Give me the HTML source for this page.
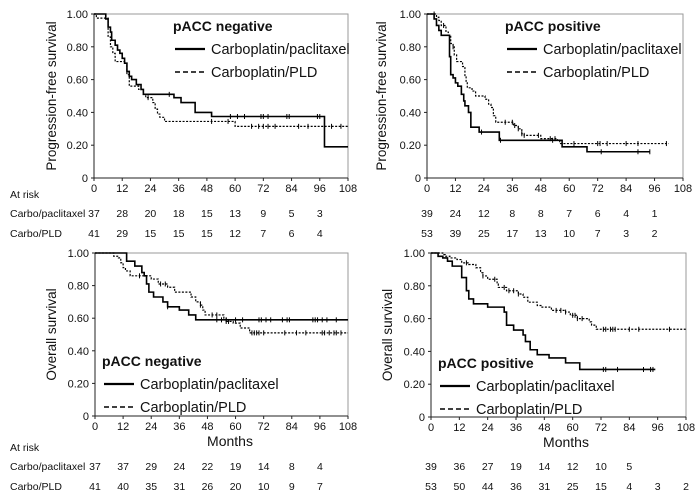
<!DOCTYPE html>
<html><head><meta charset="utf-8"><style>
html,body{margin:0;padding:0;background:#fff;}
svg{display:block;font-family:"Liberation Sans",Arial,sans-serif;}
</style></head><body>
<svg id="fig" width="700" height="500" viewBox="0 0 700 500"></svg>
<script>
const xTicks=[0,12,24,36,48,60,72,84,96,108];
const yTicks=[0,0.2,0.4,0.6,0.8,1.0];
const yTickLabels=["0","0.20","0.40","0.60","0.80","1.00"];

// Panel 1: PFS pACC negative
const p1aT=[5,6,7,7.5,9,10,11,12,13,14,15,16,18,20,21,34,37,43,50,98];
const p1aS=[0.97,0.92,0.89,0.84,0.81,0.78,0.76,0.73,0.70,0.65,0.62,0.60,0.57,0.54,0.51,0.49,0.46,0.40,0.375,0.19];
const p1aEnd=[108];
const p1aCens=[32,58,61,64,71,72,74,82,83,95,96];
const p1bT=[1,6,7,8,9,13,14,15,19,21,22,25,26,27,28,30,60];
const p1bS=[0.975,0.86,0.80,0.76,0.71,0.70,0.63,0.56,0.54,0.51,0.49,0.46,0.42,0.39,0.37,0.345,0.315];
const p1bEnd=[108];
const p1bCens=[23,50,57,67,70,72,74,77,87,91,101,105];
const p1RiskA=[37,28,20,18,15,13,9,5,3];
const p1RiskB=[41,29,15,15,15,12,7,6,4];

// Panel 2: PFS pACC positive
const p2aT=[3,4,5,6,9.5,10,11,12,13,14.5,15.5,16,17.5,18.5,22,30.5,57,67.5];
const p2aS=[0.97,0.93,0.90,0.87,0.74,0.63,0.61,0.58,0.56,0.51,0.47,0.44,0.40,0.31,0.28,0.23,0.19,0.16];
const p2aEnd=[94];
const p2aCens=[23,31,53,73.5,89,94];
const p2bT=[4,5,6,8,9,10,11,11.5,12.5,15,16,16.5,17,19,20.5,24.5,26,27,28,29,36.5,38.5,40,41,48,55,56];
const p2bS=[0.98,0.96,0.93,0.89,0.87,0.82,0.80,0.75,0.71,0.68,0.62,0.58,0.55,0.53,0.50,0.48,0.45,0.43,0.38,0.34,0.32,0.30,0.27,0.26,0.24,0.23,0.21];
const p2bEnd=[102];
const p2bCens=[3,7,11,33,36,37,38.5,40,41,47,52,54,62,72,73,76,84,89,101];
const p2RiskA=[39,24,12,8,8,7,6,4,1];
const p2RiskB=[53,39,25,17,13,10,7,3,2];

// Panel 3: OS pACC negative
const p3aT=[13.5,17,20,21,22,23,25,29,31,36,40,43];
const p3aS=[0.95,0.92,0.88,0.86,0.81,0.76,0.73,0.70,0.67,0.65,0.62,0.59];
const p3aEnd=[108];
const p3aCens=[31,52,54,56,60,63,70,71,73,75,80,82,83,93,94,95,97,99,103];
const p3bT=[8,10,11,12,13,15,24,27,31,34,41,43,45,46,47,55,56,59,62,66];
const p3bS=[0.98,0.97,0.94,0.91,0.89,0.86,0.84,0.81,0.79,0.76,0.73,0.70,0.68,0.65,0.62,0.60,0.58,0.57,0.54,0.51];
const p3bEnd=[108];
const p3bCens=[19,28,30,45,50,52,56,57,67,68,69,70,72,81,86,90,97,98,100,102,103,105];
const p3RiskA=[37,37,29,24,22,19,14,8,4];
const p3RiskB=[41,40,35,31,26,20,10,9,7];

// Panel 4: OS pACC positive
const p4aT=[3,5,7,9,13,15,16,18,24,31,32,35,39,40,42,45,50,57,63];
const p4aS=[0.98,0.97,0.95,0.92,0.85,0.77,0.72,0.69,0.67,0.64,0.56,0.53,0.50,0.46,0.41,0.38,0.36,0.33,0.29];
const p4aEnd=[95];
const p4aCens=[73,74,79,90,93,94];
const p4bT=[5,6,8,11,13,16,19,21,22,24,28,28.5,32,37,39,41,45,47,51,57,59,62,67,68,70];
const p4bS=[0.99,0.98,0.97,0.96,0.94,0.93,0.91,0.88,0.86,0.84,0.81,0.79,0.77,0.75,0.73,0.70,0.68,0.67,0.65,0.64,0.62,0.60,0.58,0.56,0.535];
const p4bEnd=[108];
const p4bCens=[15,22,27,31,33,35,37,53,55,57,60,61,62,64,73,74,76,77,78,84,88,101];
const p4RiskA=[39,36,27,19,14,12,10,5];
const p4RiskB=[53,50,44,36,31,25,15,4,3,2];

const NS="http://www.w3.org/2000/svg";
const svg=document.getElementById('fig');
function mk(tag,attrs,parent,text){const e=document.createElementNS(NS,tag);for(const k in attrs)e.setAttribute(k,attrs[k]);if(text!==undefined)e.textContent=text;(parent||svg).appendChild(e);return e;}
function stepVal(T,S,t){let v=1;for(let i=0;i<T.length;i++){if(T[i]<=t)v=S[i];}return v;}

function panel(g,id,ytitle,title,legendPos,solid,dashed,riskA,riskB,showLabels,showMonths){
  const X=t=>g.x0+(g.x1-g.x0)*t/108;
  const Y=s=>g.y0+(g.y1-g.y0)*(1-s);
  const grp=mk('g',{});
  
  
  const fr=mk('path',{d:`M${g.x0},${g.y0}H${g.x1}V${g.y1}`,fill:'none',stroke:'#999','stroke-width':1},grp);
  
  const ax=mk('path',{d:`M${g.x0},${g.y0}V${g.y1}H${g.x1}`,fill:'none',stroke:'#222','stroke-width':1},grp);
  
  xTicks.forEach(t=>{
    mk('line',{x1:X(t),x2:X(t),y1:g.y1,y2:g.y1+3,stroke:'#222'},grp);
    const tl=mk('text',{x:X(t),y:g.y1+14,'font-size':11,'text-anchor':'middle',fill:'#111'},grp,String(t));
    
  });
  yTicks.forEach((v,i)=>{
    mk('line',{x1:g.x0-3,x2:g.x0,y1:Y(v),y2:Y(v),stroke:'#222'},grp);
    const tl=mk('text',{x:g.x0-6,y:Y(v)+4,'font-size':11,'text-anchor':'end',fill:'#111'},grp,yTickLabels[i]);
    
  });
  const yt=mk('text',{transform:`translate(${g.ytx},${(g.y0+g.y1)/2}) rotate(-90)`,'font-size':13.5,'text-anchor':'middle',fill:'#111'},grp,ytitle);
  
  if(showMonths){
    const mt=mk('text',{x:g.monthsX,y:g.y1+30,'font-size':14,'text-anchor':'middle',fill:'#111'},grp,'Months');
    
  }
  function curve(T,S,end,cens,dash,name){
    let d=`M${X(0)},${Y(1)}`;
    for(let i=0;i<T.length;i++){d+=`H${X(T[i])}V${Y(S[i])}`;}
    d+=`H${X(end[0])}`;
    const p=mk('path',{d:d,fill:'none',stroke:'#000','stroke-width':dash?1.2:1.6,'stroke-dasharray':dash?'2,1.5':'none'},grp);
    
    cens.forEach(t=>{const v=stepVal(T,S,t);
      const c=mk('line',{x1:X(t),x2:X(t),y1:Y(v)-2.5,y2:Y(v)+2.5,stroke:'#000','stroke-width':1},grp);
      });
  }
  curve(solid[0],solid[1],solid[2],solid[3],false,'carboplatin-paclitaxel-curve');
  curve(dashed[0],dashed[1],dashed[2],dashed[3],true,'carboplatin-pld-curve');
  const L=legendPos;
  const lt=mk('text',{x:L.x,y:L.y,'font-size':14,'font-weight':'bold',fill:'#111'},grp,title);
  
  const l1=mk('line',{x1:L.lx,x2:L.lx+30,y1:L.y+18,y2:L.y+18,stroke:'#000','stroke-width':2.2},grp);
  
  const t1=mk('text',{x:L.lx+36,y:L.y+23,'font-size':14.5,fill:'#111'},grp,'Carboplatin/paclitaxel');
  
  const l2=mk('line',{x1:L.lx,x2:L.lx+30,y1:L.y+41,y2:L.y+41,stroke:'#000','stroke-width':1.6,'stroke-dasharray':'5,3'},grp);
  
  const t2=mk('text',{x:L.lx+36,y:L.y+46,'font-size':14.5,fill:'#111'},grp,'Carboplatin/PLD');
  
  if(showLabels){
    const a=mk('text',{x:10,y:g.riskY-14,'font-size':10.5,fill:'#111'},grp,'At risk');
    
    const r1=mk('text',{x:10,y:g.riskY+5,'font-size':10.5,fill:'#111'},grp,'Carbo/paclitaxel');
    
    const r2=mk('text',{x:10,y:g.riskY+25,'font-size':10.5,fill:'#111'},grp,'Carbo/PLD');
    
  }
  riskA.forEach((n,i)=>{const t=mk('text',{x:X(xTicks[i]),y:g.riskY+5,'font-size':10.5,'text-anchor':'middle',fill:'#111'},grp,String(n));
    });
  riskB.forEach((n,i)=>{const t=mk('text',{x:X(xTicks[i]),y:g.riskY+25,'font-size':10.5,'text-anchor':'middle',fill:'#111'},grp,String(n));
    });
}

panel({x0:94,x1:348,y0:14,y1:178,ytx:56,riskY:212},'pfs-pacc-negative-panel','Progression-free survival','pACC negative',{x:173,y:31,lx:175},
  [p1aT,p1aS,p1aEnd,p1aCens],[p1bT,p1bS,p1bEnd,p1bCens],p1RiskA,p1RiskB,true,false);
panel({x0:427,x1:683,y0:14,y1:178,ytx:386,riskY:212},'pfs-pacc-positive-panel','Progression-free survival','pACC positive',{x:505,y:31,lx:507},
  [p2aT,p2aS,p2aEnd,p2aCens],[p2bT,p2bS,p2bEnd,p2bCens],p2RiskA,p2RiskB,false,false);
panel({x0:95,x1:348,y0:253,y1:416,ytx:56,riskY:465,monthsX:230},'os-pacc-negative-panel','Overall survival','pACC negative',{x:102,y:366,lx:104},
  [p3aT,p3aS,p3aEnd,p3aCens],[p3bT,p3bS,p3bEnd,p3bCens],p3RiskA,p3RiskB,true,true);
panel({x0:431,x1:686,y0:253,y1:417,ytx:392,riskY:465,monthsX:566},'os-pacc-positive-panel','Overall survival','pACC positive',{x:438,y:368,lx:440},
  [p4aT,p4aS,p4aEnd,p4aCens],[p4bT,p4bS,p4bEnd,p4bCens],p4RiskA,p4RiskB,false,true);
</script>
</body></html>
